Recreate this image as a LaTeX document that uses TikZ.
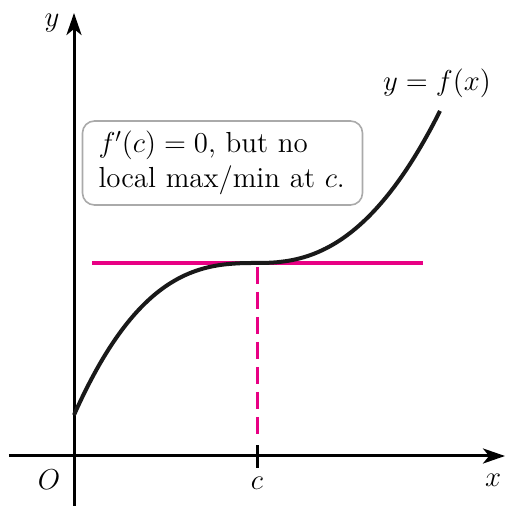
\documentclass[tikz,border=0pt]{standalone}
\usepackage{tikz}
\usetikzlibrary{arrows.meta,positioning}
\definecolor{tangent}{RGB}{232,0,132}
\definecolor{boxgray}{RGB}{170,170,170}

\begin{document}
\begin{tikzpicture}[
  x=0.5pt, y=0.5pt,
  axis/.style={line width=1.5pt, -{Stealth[length=11pt, width=7.5pt, inset=3pt]}},
  curve/.style={line width=2pt, black!90},
  tline/.style={line width=1.7pt, tangent},
  lbl/.style={font=\fontsize{15}{17.5}\selectfont, inner sep=0pt},
  note/.style={draw=boxgray, line width=0.8pt, rounded corners=6pt,
    align=left, text width=124pt, inner xsep=8pt, minimum height=42pt,
    font=\fontsize{14.5}{17.5}\selectfont}
]
  \useasboundingbox (-74,-50) rectangle (432,456);

  % Axes
  \coordinate (O) at (0,0);
  \coordinate (C) at (183,0);
  \draw[axis] (-65,0) -- (431,0);
  \draw[axis] (0,-50) -- (0,443);
  \draw[line width=1.5pt] ([yshift=-6pt]C) -- ([yshift=5.5pt]C);

  % Tangent and dashed drop
  \coordinate (P) at (183,193);
  \draw[tline] (18,193) -- (349,193);
  \draw[tline, line width=1.5pt, dash pattern=on 8.5pt off 4pt]
    ([yshift=-2pt]P) -- (183,19);

  % Curve
  \draw[curve] plot[domain=0:366, samples=100, smooth]
    (\x, {193+152*sign(\x-183)*(abs(\x-183)/183+0.0001)^(2.55-0.15*sign(\x-183))});

  % Labels
  \node[lbl] (ylab) at (-22,433) {$y$};
  \node[lbl] (olab) at (-25,-24) {$O$};
  \node[lbl] (clab) at (183,-27) {$c$};
  \node[lbl] (xlab) at (419,-24) {$x$};
  \node[lbl] (flab) at (363,373) {$y = f(x)$};

  % Note box
  \node[note] (msg) at (148.5,293)
    {$f'(c) = 0$, but no\\local max/min at $c$.};
\end{tikzpicture}
\end{document}
